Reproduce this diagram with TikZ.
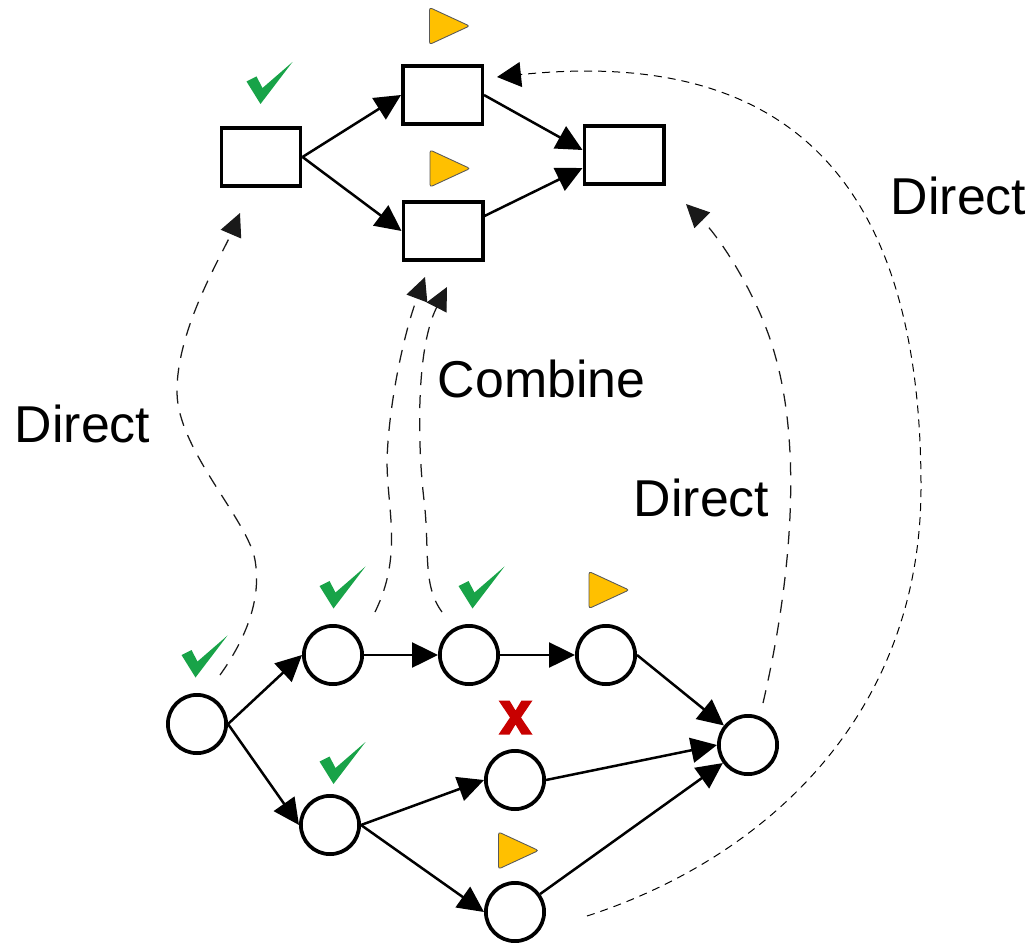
\documentclass[tikz,border=0pt]{standalone}
\usepackage{fontspec}
\setmainfont{Liberation Sans}
\usetikzlibrary{arrows.meta}

\definecolor{okgreen}{RGB}{24,163,72}
\definecolor{runamber}{RGB}{255,192,0}
\definecolor{failred}{RGB}{200,0,0}

\begin{document}
\begin{tikzpicture}[x=0.02cm, y=-0.02cm,
    task/.style    = {draw, line width=0.07cm, minimum width=1.59cm, minimum height=1.17cm, inner sep=0pt},
    state/.style   = {draw, circle, line width=0.075cm, minimum size=1.165cm, inner sep=0pt},
    flow/.style    = {-{Triangle[length=0.52cm, width=0.5cm]}, line width=0.05cm},
    link/.style    = {-{Triangle[length=0.46cm, width=0.44cm]}, line width=0.025cm, draw=black!90, dash pattern=on 0.26cm off 0.2cm},
    farlink/.style = {-{Triangle[length=0.48cm, width=0.5cm]}, line width=0.02cm, draw=black, dash pattern=on 0.16cm off 0.12cm},
    word/.style    = {anchor=base, inner sep=0pt, font=\fontsize{29.5}{35}\selectfont},
    okmark/.pic    = {\fill [okgreen] (-23,-1.5) -- (-13,-6.5) -- (-7,5) -- (23,-21) -- (-9,21) -- cycle;},
    runmark/.pic   = {\filldraw [fill=runamber, draw=black!65, line width=0.5pt, rounded corners=0.05cm] (-19.5,-18.5) -- (20.5,0) -- (-19.5,18.5) -- cycle;},
    failmark/.pic  = {\fill [failred] (-17,-17) -- (-6,-17) -- (0,-7) -- (6,-17) -- (17,-17) -- (5.5,0) -- (17,17) -- (6,17) -- (0,7) -- (-6,17) -- (-17,17) -- (-5.5,0) -- cycle;}]
  \useasboundingbox (0,0) rectangle (1033,942);

  \node [task] (t1) at (261,157)   {};
  \node [task] (t2) at (442.5,95)  {};
  \node [task] (t3) at (443,231)   {};
  \node [task] (t4) at (624,155)   {};

  \node [state] (n1) at (197,724) {};
  \node [state] (n2) at (333,655) {};
  \node [state] (n3) at (469,655) {};
  \node [state] (n4) at (606,655) {};
  \node [state] (n5) at (748,745) {};
  \node [state] (n6) at (515,780) {};
  \node [state] (n7) at (330,825) {};
  \node [state] (n8) at (515,912) {};

  \draw [flow] (t1.east) -- (t2.west);
  \draw [flow] (t1.east) -- (t3.west);
  \draw [flow] (t2.east) -- ([yshift=0.1cm]t4.west);
  \draw [flow] ([yshift=0.3cm]t3.east) -- ([yshift=-0.26cm]t4.west);

  \draw [flow] (n1.east) -- (n2.west);
  \draw [flow] (n1.east) -- (n7.west);
  \draw [flow] (n2) -- (n3);
  \draw [flow] (n3) -- (n4);
  \draw [flow] (n4.east) -- (n5);
  \draw [flow] (n6.east) -- (n5.west);
  \draw [flow] (n7.east) -- (n6.west);
  \draw [flow] (n7.east) -- (n8.west);
  \draw [flow] (n8) -- (n5);

  \pic at (269.5,83)    {okmark};
  \pic at (204.5,656.5) {okmark};
  \pic at (342.5,587.5) {okmark};
  \pic at (481.5,587.5) {okmark};
  \pic at (342.5,763)   {okmark};
  \pic at (449,26)      {runmark};
  \pic at (449.5,168.5) {runmark};
  \pic at (608.5,590)   {runmark};
  \pic at (518,850.5)   {runmark};
  \pic at (515.5,717.5) {failmark};

  \draw [link] ([shift={(23,-49)}]n1.center) .. controls (245,640) and (262,600) .. (255,560)
               .. controls (248,520) and (178,450) .. (177,393)
               .. controls (176,330) and (222,255) .. ([shift={(-21,56)}]t1.center);
  \draw [link] ([shift={(42,-43)}]n2.center) .. controls (403,555) and (387,510) .. (387,460)
               .. controls (389,400) and (405,330) .. ([shift={(-18,46)}]t3.center);
  \draw [link] ([shift={(-27,-43)}]n3.center) .. controls (422,585) and (430,550) .. (424,500)
               .. controls (418,450) and (415,350) .. ([shift={(4,56)}]t3.center);
  \draw [link] ([shift={(15,-42)}]n5.center) .. controls (787,600) and (805,460) .. (775,355)
               .. controls (760,300) and (722,240) .. ([shift={(62,49)}]t4.center);
  \draw [farlink] ([shift={(72,4)}]n8.center) .. controls (760,860) and (921,720) .. (921,487)
                  .. controls (921,150) and (760,50) .. ([shift={(54.5,-18)}]t2.center);

  \node [word] (w1) at (82.5,442)  {Direct};
  \node [word] (w2) at (541.5,397) {Combine};
  \node [word] (w3) at (701.5,516) {Direct};
  \node [word] (w4) at (958.5,215) {Direct};
\end{tikzpicture}
\end{document}
